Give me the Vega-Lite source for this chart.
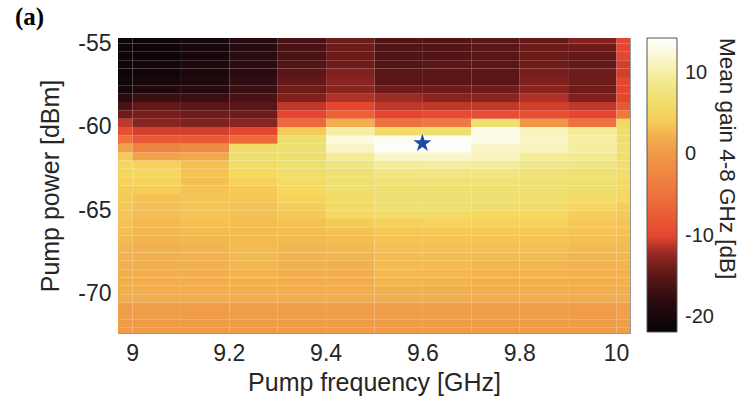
{"$schema":"https://vega.github.io/schema/vega-lite/v6.json","width":512,"height":295,"autosize":{"type":"none"},"padding":{"left":118,"top":38,"right":114,"bottom":75},"background":"white",
"title":{"text":"(a)","font":"Liberation Serif","fontSize":25,"fontWeight":"bold","anchor":"start","frame":"group","dx":-103,"offset":2,"color":"#000000"},
"datasets":{"grid":[
{"f":8.9,"p":-72.5,"g":0.6},{"f":8.9,"p":-72,"g":0.6},{"f":8.9,"p":-71.5,"g":0.7},{"f":8.9,"p":-71,"g":0.8},{"f":8.9,"p":-70.5,"g":2.0},{"f":8.9,"p":-70,"g":2.0},{"f":8.9,"p":-69.5,"g":2.1},{"f":8.9,"p":-69,"g":2.1},{"f":8.9,"p":-68.5,"g":2.2},{"f":8.9,"p":-68,"g":2.3},{"f":8.9,"p":-67.5,"g":2.5},{"f":8.9,"p":-67,"g":2.8},{"f":8.9,"p":-66.5,"g":3.2},{"f":8.9,"p":-66,"g":3.4},{"f":8.9,"p":-65.5,"g":3.6},{"f":8.9,"p":-65,"g":3.8},{"f":8.9,"p":-64.5,"g":4.0},{"f":8.9,"p":-64,"g":4.2},{"f":8.9,"p":-63.5,"g":4.5},{"f":8.9,"p":-63,"g":4.8},{"f":8.9,"p":-62.5,"g":4.8},{"f":8.9,"p":-62,"g":4.0},{"f":8.9,"p":-61.5,"g":1.0},{"f":8.9,"p":-61,"g":-5},{"f":8.9,"p":-60.5,"g":-9},{"f":8.9,"p":-60,"g":-11},{"f":8.9,"p":-59.5,"g":-14},{"f":8.9,"p":-59,"g":-16},{"f":8.9,"p":-58.5,"g":-18},{"f":8.9,"p":-58,"g":-20},{"f":8.9,"p":-57.5,"g":-20.5},{"f":8.9,"p":-57,"g":-21},{"f":8.9,"p":-56.5,"g":-21},{"f":8.9,"p":-56,"g":-21},{"f":8.9,"p":-55.5,"g":-21},{"f":8.9,"p":-55,"g":-21},
{"f":9.0,"p":-72.5,"g":0.6},{"f":9.0,"p":-72,"g":0.6},{"f":9.0,"p":-71.5,"g":0.7},{"f":9.0,"p":-71,"g":0.8},{"f":9.0,"p":-70.5,"g":1.9},{"f":9.0,"p":-70,"g":2.0},{"f":9.0,"p":-69.5,"g":2.0},{"f":9.0,"p":-69,"g":2.1},{"f":9.0,"p":-68.5,"g":2.1},{"f":9.0,"p":-68,"g":2.2},{"f":9.0,"p":-67.5,"g":2.2},{"f":9.0,"p":-67,"g":2.4},{"f":9.0,"p":-66.5,"g":2.6},{"f":9.0,"p":-66,"g":2.8},{"f":9.0,"p":-65.5,"g":3.0},{"f":9.0,"p":-65,"g":3.2},{"f":9.0,"p":-64.5,"g":3.4},{"f":9.0,"p":-64,"g":4.2},{"f":9.0,"p":-63.5,"g":4.6},{"f":9.0,"p":-63,"g":5.0},{"f":9.0,"p":-62.5,"g":4.5},{"f":9.0,"p":-62,"g":1.0},{"f":9.0,"p":-61.5,"g":-3},{"f":9.0,"p":-61,"g":-8},{"f":9.0,"p":-60.5,"g":-10.5},{"f":9.0,"p":-60,"g":-12.5},{"f":9.0,"p":-59.5,"g":-13.5},{"f":9.0,"p":-59,"g":-14.5},{"f":9.0,"p":-58.5,"g":-17},{"f":9.0,"p":-58,"g":-19},{"f":9.0,"p":-57.5,"g":-20},{"f":9.0,"p":-57,"g":-20.5},{"f":9.0,"p":-56.5,"g":-20.5},{"f":9.0,"p":-56,"g":-21},{"f":9.0,"p":-55.5,"g":-21},{"f":9.0,"p":-55,"g":-21},
{"f":9.1,"p":-72.5,"g":0.5},{"f":9.1,"p":-72,"g":0.6},{"f":9.1,"p":-71.5,"g":0.6},{"f":9.1,"p":-71,"g":0.7},{"f":9.1,"p":-70.5,"g":2.0},{"f":9.1,"p":-70,"g":2.0},{"f":9.1,"p":-69.5,"g":2.0},{"f":9.1,"p":-69,"g":2.1},{"f":9.1,"p":-68.5,"g":2.2},{"f":9.1,"p":-68,"g":2.3},{"f":9.1,"p":-67.5,"g":2.4},{"f":9.1,"p":-67,"g":2.6},{"f":9.1,"p":-66.5,"g":3.0},{"f":9.1,"p":-66,"g":3.3},{"f":9.1,"p":-65.5,"g":3.5},{"f":9.1,"p":-65,"g":3.6},{"f":9.1,"p":-64.5,"g":3.6},{"f":9.1,"p":-64,"g":3.4},{"f":9.1,"p":-63.5,"g":3.2},{"f":9.1,"p":-63,"g":3.5},{"f":9.1,"p":-62.5,"g":3.2},{"f":9.1,"p":-62,"g":1.5},{"f":9.1,"p":-61.5,"g":-2},{"f":9.1,"p":-61,"g":-8},{"f":9.1,"p":-60.5,"g":-10.5},{"f":9.1,"p":-60,"g":-13},{"f":9.1,"p":-59.5,"g":-14},{"f":9.1,"p":-59,"g":-15},{"f":9.1,"p":-58.5,"g":-17},{"f":9.1,"p":-58,"g":-18.5},{"f":9.1,"p":-57.5,"g":-19},{"f":9.1,"p":-57,"g":-19.5},{"f":9.1,"p":-56.5,"g":-19.5},{"f":9.1,"p":-56,"g":-20},{"f":9.1,"p":-55.5,"g":-20},{"f":9.1,"p":-55,"g":-20},
{"f":9.2,"p":-72.5,"g":0.5},{"f":9.2,"p":-72,"g":0.6},{"f":9.2,"p":-71.5,"g":0.7},{"f":9.2,"p":-71,"g":0.8},{"f":9.2,"p":-70.5,"g":2.0},{"f":9.2,"p":-70,"g":2.1},{"f":9.2,"p":-69.5,"g":2.2},{"f":9.2,"p":-69,"g":2.4},{"f":9.2,"p":-68.5,"g":2.6},{"f":9.2,"p":-68,"g":2.8},{"f":9.2,"p":-67.5,"g":2.8},{"f":9.2,"p":-67,"g":2.9},{"f":9.2,"p":-66.5,"g":3.0},{"f":9.2,"p":-66,"g":3.1},{"f":9.2,"p":-65.5,"g":3.2},{"f":9.2,"p":-65,"g":3.4},{"f":9.2,"p":-64.5,"g":3.6},{"f":9.2,"p":-64,"g":3.8},{"f":9.2,"p":-63.5,"g":4.5},{"f":9.2,"p":-63,"g":5.0},{"f":9.2,"p":-62.5,"g":6},{"f":9.2,"p":-62,"g":7},{"f":9.2,"p":-61.5,"g":6},{"f":9.2,"p":-61,"g":-6},{"f":9.2,"p":-60.5,"g":-10},{"f":9.2,"p":-60,"g":-12.5},{"f":9.2,"p":-59.5,"g":-14},{"f":9.2,"p":-59,"g":-15},{"f":9.2,"p":-58.5,"g":-16},{"f":9.2,"p":-58,"g":-17},{"f":9.2,"p":-57.5,"g":-17.5},{"f":9.2,"p":-57,"g":-18},{"f":9.2,"p":-56.5,"g":-18},{"f":9.2,"p":-56,"g":-18},{"f":9.2,"p":-55.5,"g":-18.5},{"f":9.2,"p":-55,"g":-18.5},
{"f":9.3,"p":-72.5,"g":0.5},{"f":9.3,"p":-72,"g":0.6},{"f":9.3,"p":-71.5,"g":0.7},{"f":9.3,"p":-71,"g":0.8},{"f":9.3,"p":-70.5,"g":1.9},{"f":9.3,"p":-70,"g":2.0},{"f":9.3,"p":-69.5,"g":2.0},{"f":9.3,"p":-69,"g":2.1},{"f":9.3,"p":-68.5,"g":2.2},{"f":9.3,"p":-68,"g":2.4},{"f":9.3,"p":-67.5,"g":2.6},{"f":9.3,"p":-67,"g":2.8},{"f":9.3,"p":-66.5,"g":3.0},{"f":9.3,"p":-66,"g":3.3},{"f":9.3,"p":-65.5,"g":3.8},{"f":9.3,"p":-65,"g":4.2},{"f":9.3,"p":-64.5,"g":4.8},{"f":9.3,"p":-64,"g":5.3},{"f":9.3,"p":-63.5,"g":6.0},{"f":9.3,"p":-63,"g":6.5},{"f":9.3,"p":-62.5,"g":6.8},{"f":9.3,"p":-62,"g":7.0},{"f":9.3,"p":-61.5,"g":7.0},{"f":9.3,"p":-61,"g":7.0},{"f":9.3,"p":-60.5,"g":4.0},{"f":9.3,"p":-60,"g":-6},{"f":9.3,"p":-59.5,"g":-10},{"f":9.3,"p":-59,"g":-11},{"f":9.3,"p":-58.5,"g":-13},{"f":9.3,"p":-58,"g":-14},{"f":9.3,"p":-57.5,"g":-14.5},{"f":9.3,"p":-57,"g":-15},{"f":9.3,"p":-56.5,"g":-15.5},{"f":9.3,"p":-56,"g":-16},{"f":9.3,"p":-55.5,"g":-16},{"f":9.3,"p":-55,"g":-16},
{"f":9.4,"p":-72.5,"g":0.5},{"f":9.4,"p":-72,"g":0.6},{"f":9.4,"p":-71.5,"g":0.7},{"f":9.4,"p":-71,"g":0.8},{"f":9.4,"p":-70.5,"g":1.9},{"f":9.4,"p":-70,"g":2.0},{"f":9.4,"p":-69.5,"g":2.0},{"f":9.4,"p":-69,"g":2.1},{"f":9.4,"p":-68.5,"g":2.2},{"f":9.4,"p":-68,"g":2.5},{"f":9.4,"p":-67.5,"g":2.8},{"f":9.4,"p":-67,"g":3.0},{"f":9.4,"p":-66.5,"g":3.3},{"f":9.4,"p":-66,"g":4.0},{"f":9.4,"p":-65.5,"g":5.0},{"f":9.4,"p":-65,"g":5.4},{"f":9.4,"p":-64.5,"g":5.8},{"f":9.4,"p":-64,"g":6.8},{"f":9.4,"p":-63.5,"g":7.0},{"f":9.4,"p":-63,"g":7.3},{"f":9.4,"p":-62.5,"g":8},{"f":9.4,"p":-62,"g":9.5},{"f":9.4,"p":-61.5,"g":11.5},{"f":9.4,"p":-61,"g":12.5},{"f":9.4,"p":-60.5,"g":10},{"f":9.4,"p":-60,"g":2},{"f":9.4,"p":-59.5,"g":-7},{"f":9.4,"p":-59,"g":-10},{"f":9.4,"p":-58.5,"g":-11.5},{"f":9.4,"p":-58,"g":-12.5},{"f":9.4,"p":-57.5,"g":-12.5},{"f":9.4,"p":-57,"g":-13},{"f":9.4,"p":-56.5,"g":-14},{"f":9.4,"p":-56,"g":-14},{"f":9.4,"p":-55.5,"g":-14},{"f":9.4,"p":-55,"g":-14},
{"f":9.5,"p":-72.5,"g":0.5},{"f":9.5,"p":-72,"g":0.6},{"f":9.5,"p":-71.5,"g":0.7},{"f":9.5,"p":-71,"g":0.8},{"f":9.5,"p":-70.5,"g":2.0},{"f":9.5,"p":-70,"g":2.2},{"f":9.5,"p":-69.5,"g":2.5},{"f":9.5,"p":-69,"g":2.8},{"f":9.5,"p":-68.5,"g":2.9},{"f":9.5,"p":-68,"g":3.0},{"f":9.5,"p":-67.5,"g":3.3},{"f":9.5,"p":-67,"g":3.5},{"f":9.5,"p":-66.5,"g":3.7},{"f":9.5,"p":-66,"g":4.5},{"f":9.5,"p":-65.5,"g":6.0},{"f":9.5,"p":-65,"g":6.8},{"f":9.5,"p":-64.5,"g":7},{"f":9.5,"p":-64,"g":7.2},{"f":9.5,"p":-63.5,"g":7.5},{"f":9.5,"p":-63,"g":8},{"f":9.5,"p":-62.5,"g":9.5},{"f":9.5,"p":-62,"g":11.5},{"f":9.5,"p":-61.5,"g":14},{"f":9.5,"p":-61,"g":13.5},{"f":9.5,"p":-60.5,"g":6},{"f":9.5,"p":-60,"g":-5},{"f":9.5,"p":-59.5,"g":-10},{"f":9.5,"p":-59,"g":-11},{"f":9.5,"p":-58.5,"g":-12},{"f":9.5,"p":-58,"g":-14},{"f":9.5,"p":-57.5,"g":-15},{"f":9.5,"p":-57,"g":-15},{"f":9.5,"p":-56.5,"g":-15.5},{"f":9.5,"p":-56,"g":-15.5},{"f":9.5,"p":-55.5,"g":-15.5},{"f":9.5,"p":-55,"g":-15.5},
{"f":9.6,"p":-72.5,"g":0.5},{"f":9.6,"p":-72,"g":0.6},{"f":9.6,"p":-71.5,"g":0.7},{"f":9.6,"p":-71,"g":0.8},{"f":9.6,"p":-70.5,"g":2.0},{"f":9.6,"p":-70,"g":2.2},{"f":9.6,"p":-69.5,"g":2.4},{"f":9.6,"p":-69,"g":2.7},{"f":9.6,"p":-68.5,"g":2.9},{"f":9.6,"p":-68,"g":3.0},{"f":9.6,"p":-67.5,"g":3.3},{"f":9.6,"p":-67,"g":3.5},{"f":9.6,"p":-66.5,"g":3.8},{"f":9.6,"p":-66,"g":4.6},{"f":9.6,"p":-65.5,"g":5.8},{"f":9.6,"p":-65,"g":6.8},{"f":9.6,"p":-64.5,"g":7},{"f":9.6,"p":-64,"g":7.2},{"f":9.6,"p":-63.5,"g":7.5},{"f":9.6,"p":-63,"g":8.2},{"f":9.6,"p":-62.5,"g":9.8},{"f":9.6,"p":-62,"g":11.5},{"f":9.6,"p":-61.5,"g":14},{"f":9.6,"p":-61,"g":14},{"f":9.6,"p":-60.5,"g":7},{"f":9.6,"p":-60,"g":-4},{"f":9.6,"p":-59.5,"g":-9.5},{"f":9.6,"p":-59,"g":-11},{"f":9.6,"p":-58.5,"g":-12.5},{"f":9.6,"p":-58,"g":-14},{"f":9.6,"p":-57.5,"g":-15},{"f":9.6,"p":-57,"g":-15},{"f":9.6,"p":-56.5,"g":-15},{"f":9.6,"p":-56,"g":-15.5},{"f":9.6,"p":-55.5,"g":-15.5},{"f":9.6,"p":-55,"g":-15.5},
{"f":9.7,"p":-72.5,"g":0.5},{"f":9.7,"p":-72,"g":0.6},{"f":9.7,"p":-71.5,"g":0.7},{"f":9.7,"p":-71,"g":0.8},{"f":9.7,"p":-70.5,"g":2.0},{"f":9.7,"p":-70,"g":2.1},{"f":9.7,"p":-69.5,"g":2.2},{"f":9.7,"p":-69,"g":2.4},{"f":9.7,"p":-68.5,"g":2.6},{"f":9.7,"p":-68,"g":2.9},{"f":9.7,"p":-67.5,"g":3.2},{"f":9.7,"p":-67,"g":3.4},{"f":9.7,"p":-66.5,"g":3.8},{"f":9.7,"p":-66,"g":4.5},{"f":9.7,"p":-65.5,"g":5.0},{"f":9.7,"p":-65,"g":6.5},{"f":9.7,"p":-64.5,"g":7},{"f":9.7,"p":-64,"g":7.2},{"f":9.7,"p":-63.5,"g":7.5},{"f":9.7,"p":-63,"g":8},{"f":9.7,"p":-62.5,"g":9.5},{"f":9.7,"p":-62,"g":11},{"f":9.7,"p":-61.5,"g":11.5},{"f":9.7,"p":-61,"g":13},{"f":9.7,"p":-60.5,"g":13},{"f":9.7,"p":-60,"g":7},{"f":9.7,"p":-59.5,"g":-9},{"f":9.7,"p":-59,"g":-11},{"f":9.7,"p":-58.5,"g":-12.5},{"f":9.7,"p":-58,"g":-14},{"f":9.7,"p":-57.5,"g":-15},{"f":9.7,"p":-57,"g":-15},{"f":9.7,"p":-56.5,"g":-15},{"f":9.7,"p":-56,"g":-15},{"f":9.7,"p":-55.5,"g":-15},{"f":9.7,"p":-55,"g":-15},
{"f":9.8,"p":-72.5,"g":0.5},{"f":9.8,"p":-72,"g":0.6},{"f":9.8,"p":-71.5,"g":0.7},{"f":9.8,"p":-71,"g":0.8},{"f":9.8,"p":-70.5,"g":2.0},{"f":9.8,"p":-70,"g":2.1},{"f":9.8,"p":-69.5,"g":2.2},{"f":9.8,"p":-69,"g":2.4},{"f":9.8,"p":-68.5,"g":2.6},{"f":9.8,"p":-68,"g":2.9},{"f":9.8,"p":-67.5,"g":3.2},{"f":9.8,"p":-67,"g":3.4},{"f":9.8,"p":-66.5,"g":3.8},{"f":9.8,"p":-66,"g":4.5},{"f":9.8,"p":-65.5,"g":5.0},{"f":9.8,"p":-65,"g":6.0},{"f":9.8,"p":-64.5,"g":6.5},{"f":9.8,"p":-64,"g":7},{"f":9.8,"p":-63.5,"g":7.2},{"f":9.8,"p":-63,"g":7.5},{"f":9.8,"p":-62.5,"g":8.5},{"f":9.8,"p":-62,"g":9.5},{"f":9.8,"p":-61.5,"g":11},{"f":9.8,"p":-61,"g":11.3},{"f":9.8,"p":-60.5,"g":11},{"f":9.8,"p":-60,"g":0},{"f":9.8,"p":-59.5,"g":-9},{"f":9.8,"p":-59,"g":-10.5},{"f":9.8,"p":-58.5,"g":-11.5},{"f":9.8,"p":-58,"g":-12.5},{"f":9.8,"p":-57.5,"g":-13},{"f":9.8,"p":-57,"g":-13.5},{"f":9.8,"p":-56.5,"g":-14},{"f":9.8,"p":-56,"g":-14},{"f":9.8,"p":-55.5,"g":-14},{"f":9.8,"p":-55,"g":-14.5},
{"f":9.9,"p":-72.5,"g":0.5},{"f":9.9,"p":-72,"g":0.6},{"f":9.9,"p":-71.5,"g":0.6},{"f":9.9,"p":-71,"g":0.7},{"f":9.9,"p":-70.5,"g":2.0},{"f":9.9,"p":-70,"g":2.0},{"f":9.9,"p":-69.5,"g":2.1},{"f":9.9,"p":-69,"g":2.2},{"f":9.9,"p":-68.5,"g":2.3},{"f":9.9,"p":-68,"g":2.5},{"f":9.9,"p":-67.5,"g":2.8},{"f":9.9,"p":-67,"g":3.2},{"f":9.9,"p":-66.5,"g":3.5},{"f":9.9,"p":-66,"g":3.7},{"f":9.9,"p":-65.5,"g":4.2},{"f":9.9,"p":-65,"g":5.0},{"f":9.9,"p":-64.5,"g":6.0},{"f":9.9,"p":-64,"g":6.5},{"f":9.9,"p":-63.5,"g":7},{"f":9.9,"p":-63,"g":7.2},{"f":9.9,"p":-62.5,"g":8},{"f":9.9,"p":-62,"g":9},{"f":9.9,"p":-61.5,"g":9.8},{"f":9.9,"p":-61,"g":10},{"f":9.9,"p":-60.5,"g":9.5},{"f":9.9,"p":-60,"g":-5},{"f":9.9,"p":-59.5,"g":-10},{"f":9.9,"p":-59,"g":-11},{"f":9.9,"p":-58.5,"g":-13},{"f":9.9,"p":-58,"g":-14},{"f":9.9,"p":-57.5,"g":-14},{"f":9.9,"p":-57,"g":-14},{"f":9.9,"p":-56.5,"g":-14.5},{"f":9.9,"p":-56,"g":-14.5},{"f":9.9,"p":-55.5,"g":-14},{"f":9.9,"p":-55,"g":-13},
{"f":10.0,"p":-72.5,"g":0.8},{"f":10.0,"p":-72,"g":0.8},{"f":10.0,"p":-71.5,"g":0.9},{"f":10.0,"p":-71,"g":1.0},{"f":10.0,"p":-70.5,"g":2.0},{"f":10.0,"p":-70,"g":2.1},{"f":10.0,"p":-69.5,"g":2.2},{"f":10.0,"p":-69,"g":2.3},{"f":10.0,"p":-68.5,"g":2.4},{"f":10.0,"p":-68,"g":2.6},{"f":10.0,"p":-67.5,"g":2.8},{"f":10.0,"p":-67,"g":3.0},{"f":10.0,"p":-66.5,"g":3.3},{"f":10.0,"p":-66,"g":3.5},{"f":10.0,"p":-65.5,"g":3.8},{"f":10.0,"p":-65,"g":4.2},{"f":10.0,"p":-64.5,"g":5},{"f":10.0,"p":-64,"g":5.5},{"f":10.0,"p":-63.5,"g":6},{"f":10.0,"p":-63,"g":6.5},{"f":10.0,"p":-62.5,"g":6.5},{"f":10.0,"p":-62,"g":6.8},{"f":10.0,"p":-61.5,"g":7},{"f":10.0,"p":-61,"g":7},{"f":10.0,"p":-60.5,"g":6.5},{"f":10.0,"p":-60,"g":5},{"f":10.0,"p":-59.5,"g":-4},{"f":10.0,"p":-59,"g":-8},{"f":10.0,"p":-58.5,"g":-10},{"f":10.0,"p":-58,"g":-10},{"f":10.0,"p":-57.5,"g":-10},{"f":10.0,"p":-57,"g":-10.5},{"f":10.0,"p":-56.5,"g":-10.5},{"f":10.0,"p":-56,"g":-10},{"f":10.0,"p":-55.5,"g":-10},{"f":10.0,"p":-55,"g":-10}
],"star":[{"f":9.6,"p":-61.0}]},
"layer":[
{"data":{"name":"grid"},"mark":{"type":"rect","clip":true},
"encoding":{
"x":{"field":"f","type":"quantitative","bin":{"binned":true,"step":0.1},"scale":{"domain":[8.971,10.029],"nice":false,"zero":false},"axis":{"title":"Pump frequency [GHz]","values":[9,9.2,9.4,9.6,9.8,10],"format":"~g","labelPadding":9,"titlePadding":5}},
"y":{"field":"p","type":"quantitative","bin":{"binned":true,"step":0.5},"scale":{"domain":[-72.35,-54.7],"nice":false,"zero":false},"axis":{"title":"Pump power [dBm]","values":[-70,-65,-60,-55],"format":"~g","labelExpr":"replace(datum.label, '\u2212', '-')","labelPadding":7,"titlePadding":14}},
"color":{"field":"g","type":"quantitative","scale":{"domain":[-21.8,-18,-15,-12.5,-10,-6,-2,0.5,2,3.5,5,7,9.5,11.5,14.3],"range":["#050306","#2a0b10","#5a1616","#8a2420","#e4462f","#ec6a3a","#ef8a42","#f09a48","#f2ae4e","#f5c455","#f6d85e","#eee070","#f4ec98","#faf5c8","#ffffff"],"interpolate":"rgb"},
"legend":{"orient":"none","legendX":529,"legendY":0,"direction":"vertical","gradientLength":294,"gradientThickness":30,"gradientStrokeColor":"#555555","gradientStrokeWidth":1,"values":[-20,-10,0,10],"labelExpr":"replace(datum.label, '\u2212', '-')","labelFontSize":20,"labelFont":"Liberation Sans","labelColor":"#262626","labelOffset":8,"title":"Mean gain 4-8 GHz [dB]","titleLimit":500,"titleOrient":"right","titleAngle":90,"titleFontSize":22.5,"titleFont":"Liberation Sans","titleFontWeight":"normal","titleColor":"#262626","titleAnchor":"end","titlePadding":1}}
}},
{"data":{"name":"star"},"mark":{"type":"point","shape":"M0,-1L0.225,-0.309L0.951,-0.309L0.363,0.118L0.588,0.809L0,0.382L-0.588,0.809L-0.363,0.118L-0.951,-0.309L-0.225,-0.309Z","filled":true,"color":"#1f47a8","size":360,"opacity":1},
"encoding":{"x":{"field":"f","type":"quantitative","axis":{"title":"Pump frequency [GHz]"}},"y":{"field":"p","type":"quantitative","axis":{"title":"Pump power [dBm]"}}}}
],
"config":{"view":{"stroke":"#999999","strokeWidth":1},"axis":{"labelFont":"Liberation Sans","titleFont":"Liberation Sans","labelFontSize":23,"titleFontSize":25,"titleFontWeight":"normal","labelColor":"#262626","titleColor":"#262626","domain":false,"ticks":false,"grid":false}}
}
